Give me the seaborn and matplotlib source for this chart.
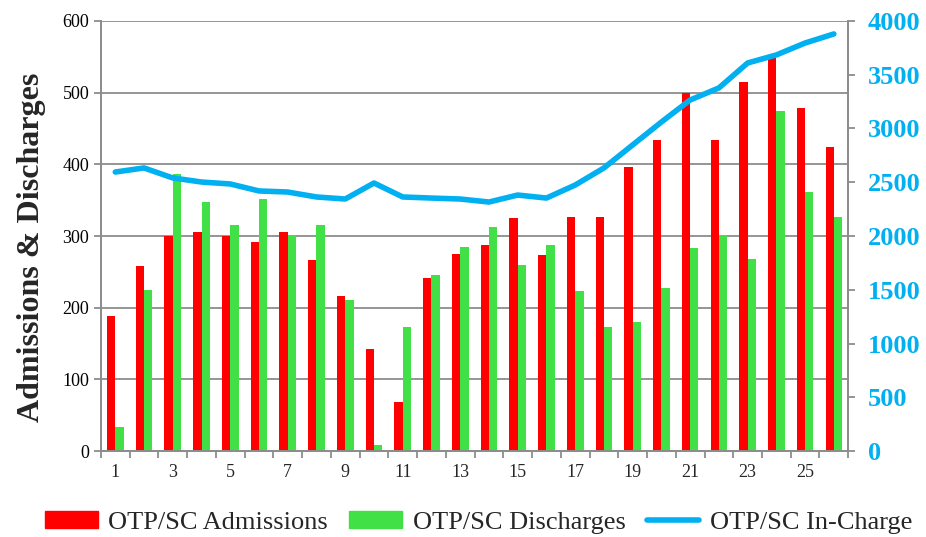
import numpy as np
import pandas as pd
import seaborn as sns
import matplotlib
matplotlib.use("Agg")
import matplotlib.pyplot as plt
from matplotlib.patches import Patch
from matplotlib.lines import Line2D

periods = list(range(1, 27))
admissions = [189, 258, 300, 306, 300, 291, 305, 266, 216, 142, 68, 241, 275,
              288, 325, 274, 327, 327, 396, 434, 499, 434, 515, 548, 479, 424]
discharges = [33, 224, 387, 347, 316, 352, 301, 315, 211, 9, 173, 246, 284,
              313, 260, 288, 223, 173, 180, 228, 283, 301, 268, 475, 361, 327]
in_charge = [2595, 2633, 2540, 2502, 2484, 2419, 2409, 2363, 2344, 2493, 2363,
             2353, 2344, 2316, 2381, 2353, 2474, 2633, 2847, 3060, 3265, 3377,
             3609, 3684, 3795, 3879]

RED = "#FF0000"
GREEN = "#41E046"
BLUE = "#00B0F0"
GREY = "#8C8C8C"

sns.set_theme(style="white")
plt.rcParams["font.family"] = ["Liberation Serif", "DejaVu Serif"]

bars = pd.DataFrame({
    "period": periods * 2,
    "value": admissions + discharges,
    "series": ["OTP/SC Admissions"] * 26 + ["OTP/SC Discharges"] * 26,
})

fig = plt.figure(figsize=(9.26, 5.37), dpi=100)
ax = fig.add_axes([0.109, 0.160, 0.807, 0.801])

sns.barplot(data=bars, x="period", y="value", hue="series", order=periods,
            palette=[RED, GREEN], width=0.58, saturation=1, linewidth=0,
            ax=ax, legend=False)
ax.set_xlim(-0.5, 25.5)
ax.set_ylim(0, 600)
ax.set_yticks(range(0, 601, 100))
ax.grid(axis="y", color=GREY, linewidth=1.3)
ax.set_axisbelow(True)
for s in ax.spines.values():
    s.set_color(GREY)
    s.set_linewidth(1.3)
ax.spines["top"].set_visible(False)

ax.set_xticks(range(0, 26, 2))
ax.set_xticklabels([str(p) for p in periods[::2]], fontsize=13)
ax.set_xticks(np.arange(-0.5, 26, 1), minor=True)
ax.tick_params(axis="x", which="major", length=0, pad=9)
ax.tick_params(axis="x", which="minor", length=5, color=GREY, width=1.3,
               direction="out", bottom=True)
ax.tick_params(axis="y", length=5, color=GREY, width=1.3, left=True,
               labelsize=13, labelcolor="black")
ax.set_xlabel("")
ax.set_ylabel("Admissions & Discharges", fontsize=23, fontweight="bold")
ax.yaxis.set_label_coords(-0.074, 0.474)

ax2 = ax.twinx()
sns.lineplot(x=np.arange(26), y=in_charge, color=BLUE, linewidth=4,
             ax=ax2, solid_joinstyle="round", solid_capstyle="round")
ax2.set_ylim(0, 4000)
ax2.set_yticks(range(0, 4001, 500))
ax2.tick_params(axis="y", length=5, color=GREY, width=1.3, right=True,
                labelsize=19, labelcolor=BLUE, pad=9)
for lbl in ax2.get_yticklabels():
    lbl.set_fontweight("bold")
for s in ax2.spines.values():
    s.set_color(GREY)
    s.set_linewidth(1.3)
ax2.spines["top"].set_visible(False)
ax2.set_xlim(-0.5, 25.5)

handles = [Patch(color=RED), Patch(color=GREEN), Line2D([], [], color=BLUE, lw=4)]
labels = ["OTP/SC Admissions", "OTP/SC Discharges", "OTP/SC In-Charge"]
fig.legend(handles, labels, loc="lower center", bbox_to_anchor=(0.517, -0.038),
           ncol=3, frameon=False, fontsize=19, handlelength=2.0,
           handleheight=0.6, columnspacing=0.8, handletextpad=0.4)

fig.savefig("out.png", dpi=100)
